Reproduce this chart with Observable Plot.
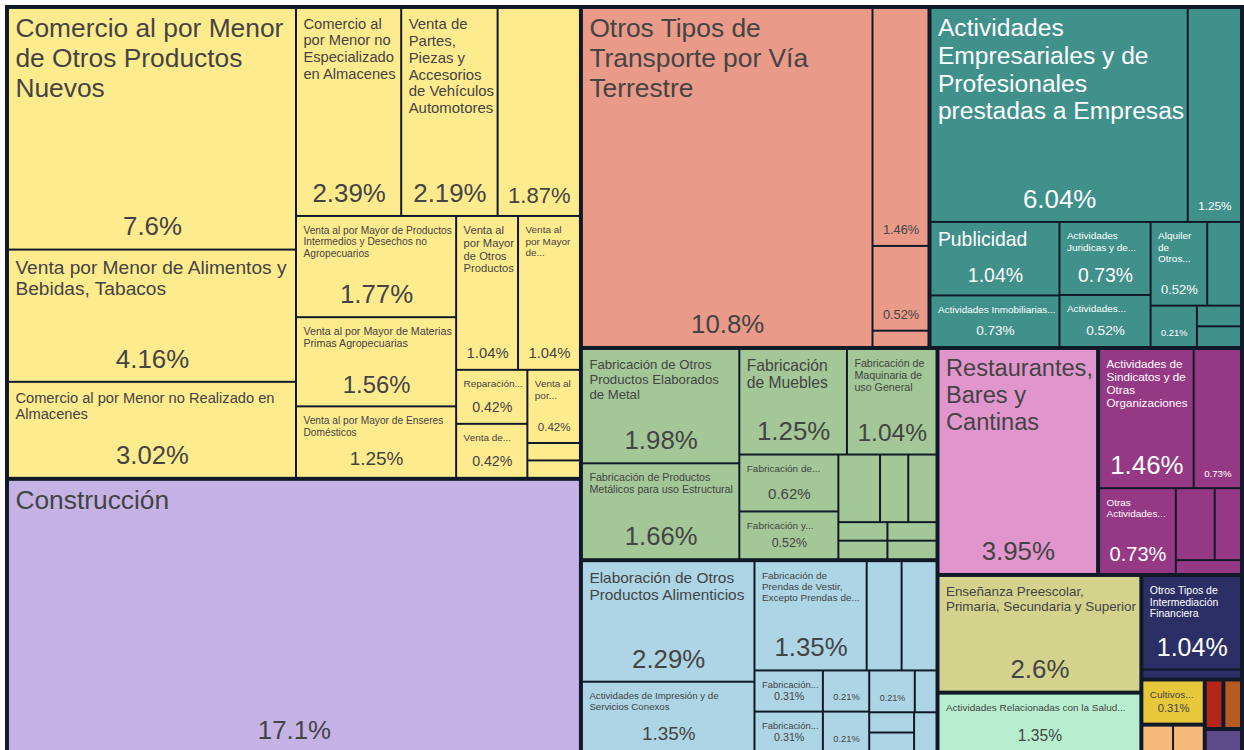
<!DOCTYPE html>
<html>
<head>
<meta charset="utf-8">
<script src="https://cdn.jsdelivr.net/npm/d3@7"></script>
<script src="https://cdn.jsdelivr.net/npm/@observablehq/plot@0.6"></script>
<style>
  html, body { margin: 0; padding: 0; background: #ffffff; overflow: hidden; }
  #chart svg { display: block; }
</style>
</head>
<body>
<div id="chart"></div>
<script>
// ---------------- DATA (shares in %) ----------------
const sectors = [
  "Comercio", "Construcción", "Transportes", "Servicios Empresariales",
  "Productos Metálicos", "Otras Manufacturas", "Restaurantes", "Organizaciones",
  "Educación", "Salud", "Servicios Financieros", "Cultivos",
  "Otro A", "Otro B", "Otro C", "Otro D"
];

const names = [
  // Comercio
  "Comercio al por Menor de Otros Productos Nuevos",
  "Venta por Menor de Alimentos y Bebidas, Tabacos",
  "Comercio al por Menor no Realizado en Almacenes",
  "Comercio al por Menor no Especializado en Almacenes",
  "Venta de Partes, Piezas y Accesorios de Vehículos Automotores",
  "",
  "Venta al por Mayor de Productos Intermedios y Desechos no Agropecuarios",
  "Venta al por Mayor de Materias Primas Agropecuarias",
  "Venta al por Mayor de Enseres Domésticos",
  "Venta al por Mayor de Otros Productos",
  "Venta al por Mayor de...",
  "Reparación...",
  "Venta de...",
  "Venta al por...",
  "", "",
  // Construcción
  "Construcción",
  // Transportes
  "Otros Tipos de Transporte por Vía Terrestre", "", "", "",
  // Servicios Empresariales
  "Actividades Empresariales y de Profesionales prestadas a Empresas",
  "",
  "Publicidad",
  "Actividades Inmobiliarias...",
  "Actividades Juridicas y de...",
  "Actividades...",
  "Alquiler de Otros...",
  "", "", "", "",
  // Productos Metálicos
  "Fabricación de Otros Productos Elaborados de Metal",
  "Fabricación de Productos Metálicos para uso Estructural",
  "Fabricación de Muebles",
  "Fabricación de Maquinaria de uso General",
  "Fabricación de...",
  "Fabricación y...",
  "", "", "", "", "", "", "",
  // Otras Manufacturas
  "Elaboración de Otros Productos Alimenticios",
  "Actividades de Impresión y de Servicios Conexos",
  "Fabricación de Prendas de Vestir, Excepto Prendas de...",
  "", "",
  "Fabricación...",
  "Fabricación...",
  "", "", "", "", "", "", "",
  // Restaurantes
  "Restaurantes, Bares y Cantinas",
  // Organizaciones
  "Actividades de Sindicatos y de Otras Organizaciones",
  "",
  "Otras Actividades...",
  "", "", "",
  // Educación
  "Enseñanza Preescolar, Primaria, Secundaria y Superior",
  // Salud
  "Actividades Relacionadas con la Salud...",
  // Servicios Financieros
  "Otros Tipos de Intermediación Financiera", "",
  // Cultivos
  "Cultivos...",
  // Otros
  "", "",
  "",
  "",
  ""
];

const shares = [
  // Comercio
  7.6, 4.16, 3.02, 2.39, 2.19, 1.87, 1.77, 1.56, 1.25, 1.04, 1.04, 0.42, 0.42, 0.42, 0.1, 0.1,
  // Construcción
  17.1,
  // Transportes
  10.8, 1.46, 0.52, 0.1,
  // Servicios Empresariales
  6.04, 1.25, 1.04, 0.73, 0.73, 0.52, 0.52, 0.31, 0.21, 0.1, 0.1,
  // Productos Metálicos
  1.98, 1.66, 1.25, 1.04, 0.62, 0.52, 0.31, 0.21, 0.21, 0.1, 0.1, 0.1, 0.1,
  // Otras Manufacturas
  2.29, 1.35, 1.35, 0.42, 0.42, 0.31, 0.31, 0.21, 0.21, 0.21, 0.1, 0.1, 0.1, 0.1,
  // Restaurantes
  3.95,
  // Organizaciones
  1.46, 0.73, 0.73, 0.31, 0.21, 0.1,
  // Educación
  2.6,
  // Salud
  1.35,
  // Servicios Financieros
  1.04, 0.1,
  // Cultivos
  0.31,
  // Otros
  0.1, 0.1,
  0.1,
  0.1,
  0.1
];

const sectorOf = [
  ...Array(16).fill("Comercio"),
  "Construcción",
  ...Array(4).fill("Transportes"),
  ...Array(11).fill("Servicios Empresariales"),
  ...Array(13).fill("Productos Metálicos"),
  ...Array(14).fill("Otras Manufacturas"),
  "Restaurantes",
  ...Array(6).fill("Organizaciones"),
  "Educación",
  "Salud",
  ...Array(2).fill("Servicios Financieros"),
  "Cultivos",
  "Otro A", "Otro A",
  "Otro B",
  "Otro C",
  "Otro D"
];

// ---------------- STYLE ----------------
const palette = {
  "Comercio": "#feeb8e",
  "Construcción": "#c5b3e6",
  "Transportes": "#e99a89",
  "Servicios Empresariales": "#40918c",
  "Productos Metálicos": "#a3c797",
  "Otras Manufacturas": "#add5e6",
  "Restaurantes": "#e195cd",
  "Organizaciones": "#963984",
  "Educación": "#d3d38e",
  "Salud": "#b8eed0",
  "Servicios Financieros": "#2c2f66",
  "Cultivos": "#e8c83b",
  "Otro A": "#f7bb79",
  "Otro B": "#b3261a",
  "Otro C": "#b75b22",
  "Otro D": "#5d4a88"
};
const BORDER = "#0f1928";
const FONT = '"Liberation Sans", Arial, Helvetica, sans-serif';
const SVG_W = 1251, SVG_H = 761;
const OX = 5, OY = 5, TW = 1246, TH = 755;
const NAME_MAX = 26.5, NAME_MIN = 10, SHARE_MAX = 26, LH = 1.13;

// ---------------- LAYOUT ----------------
const rows = names.map((n, i) => ({name: n, value: shares[i], sector: sectorOf[i]}));
const total = d3.sum(shares);
const root = d3.hierarchy({
    children: sectors.map(s => ({sector: s, children: rows.filter(r => r.sector === s)}))
  })
  .sum(d => d.children ? 0 : d.value)
  .sort((a, b) => b.value - a.value);

d3.treemap()
  .tile(d3.treemapSquarify)
  .size([TW, TH])
  .paddingOuter(n => n.depth === 0 ? 4 : 0)
  .paddingInner(n => n.depth === 0 ? 4 : 2)(root);

// ---------------- TEXT FITTING ----------------
const ctx = document.createElement("canvas").getContext("2d");
function tw(s, fs) { ctx.font = `100px ${FONT}`; return ctx.measureText(s).width * fs / 100; }
function wrap(words, fs, bw) {
  const lines = []; let cur = "";
  for (const w of words) {
    if (tw(w, fs) > bw) return null;
    const t = cur ? cur + " " + w : w;
    if (tw(t, fs) <= bw) cur = t; else { lines.push(cur); cur = w; }
  }
  if (cur) lines.push(cur);
  return lines;
}
function fitName(name, bw, bh) {
  if (!name || bw < 10 || bh < 9) return null;
  const words = name.split(" ");
  const truncated = name.endsWith("...");
  const areaMod = (1.165 + bw / bh * 0.1) * 1.15;
  const fmax = truncated ? NAME_MIN
    : Math.min(NAME_MAX, Math.sqrt(bw * bh / (tw(name, 1) * LH * areaMod)));
  let best = null;
  for (let fs = Math.max(9, Math.floor(fmax * 4) / 4); fs >= 9; fs -= 0.25) {
    const lines = wrap(words, fs, bw);
    if (lines && lines.length * fs * LH <= bh) { best = {fs, lines}; break; }
  }
  if (!best) return null;
  // below the size cap, prefer a slightly smaller size when it saves a line
  if (!truncated && best.fs < NAME_MAX) {
    for (let fs = best.fs - 0.25; fs >= Math.max(9, best.fs * 0.9); fs -= 0.25) {
      const lines = wrap(words, fs, bw);
      if (lines && lines.length < best.lines.length) { best = {fs, lines}; break; }
    }
  }
  return best;
}
const fmt = v => String(+(+v.toPrecision(3)).toFixed(2));

const tiles = [], nameLines = [], shareLabels = [];
for (const leaf of root.leaves()) {
  const x0 = leaf.x0 + OX, x1 = leaf.x1 + OX, y0 = leaf.y0 + OY, y1 = leaf.y1 + OY;
  const w = x1 - x0, h = y1 - y0;
  const fill = palette[leaf.data.sector];
  const ink = d3.lab(fill).l < 60 ? "#ffffff" : "#444444";
  tiles.push({x0, x1, y0, y1, fill});
  const label = fmt(leaf.value / total * 100) + "%";
  const sh = Math.min(50, h * 0.35);
  const sfs = Math.min(SHARE_MAX, (w - 18) / tw(label, 1), sh * 0.78);
  const showShare = sfs >= 9;
  if (showShare) shareLabels.push({x: (x0 + x1) / 2, y: y1 - 9 - sfs * 0.5, text: label, fs: sfs, fill: ink});
  const gap = 9 + Math.min(18, 0.1 * h);
  const bh = showShare ? h - sh - gap : h - 14;
  const fit = fitName(leaf.data.name, w - 9, bh);
  if (fit) fit.lines.forEach((t, i) =>
    nameLines.push({x: x0 + 6, y: y0 + 9 + i * fit.fs * LH, text: t, fs: fit.fs, fill: ink}));
}
const frame = [{x0: root.x0 + OX, x1: root.x1 + OX, y0: root.y0 + OY, y1: root.y1 + OY}];

// ---------------- PLOT ----------------
const chart = Plot.plot({
  width: SVG_W,
  height: SVG_H,
  margin: 0,
  x: {domain: [0, SVG_W], range: [0, SVG_W], axis: null},
  y: {domain: [0, SVG_H], range: [0, SVG_H], axis: null},
  color: {type: "identity"},
  style: {fontFamily: FONT, background: "#ffffff"},
  marks: [
    Plot.rect(frame, {x1: "x0", x2: "x1", y1: "y0", y2: "y1", fill: BORDER}),
    Plot.rect(tiles, {x1: "x0", x2: "x1", y1: "y0", y2: "y1", fill: "fill"}),
    Plot.text(nameLines, {x: "x", y: "y", text: "text", fontSize: "fs", fill: "fill",
      textAnchor: "start", lineAnchor: "top", fontFamily: FONT}),
    Plot.text(shareLabels, {x: "x", y: "y", text: "text", fontSize: "fs", fill: "fill",
      textAnchor: "middle", lineAnchor: "middle", fontFamily: FONT})
  ]
});
document.getElementById("chart").appendChild(chart);
</script>
</body>
</html>
